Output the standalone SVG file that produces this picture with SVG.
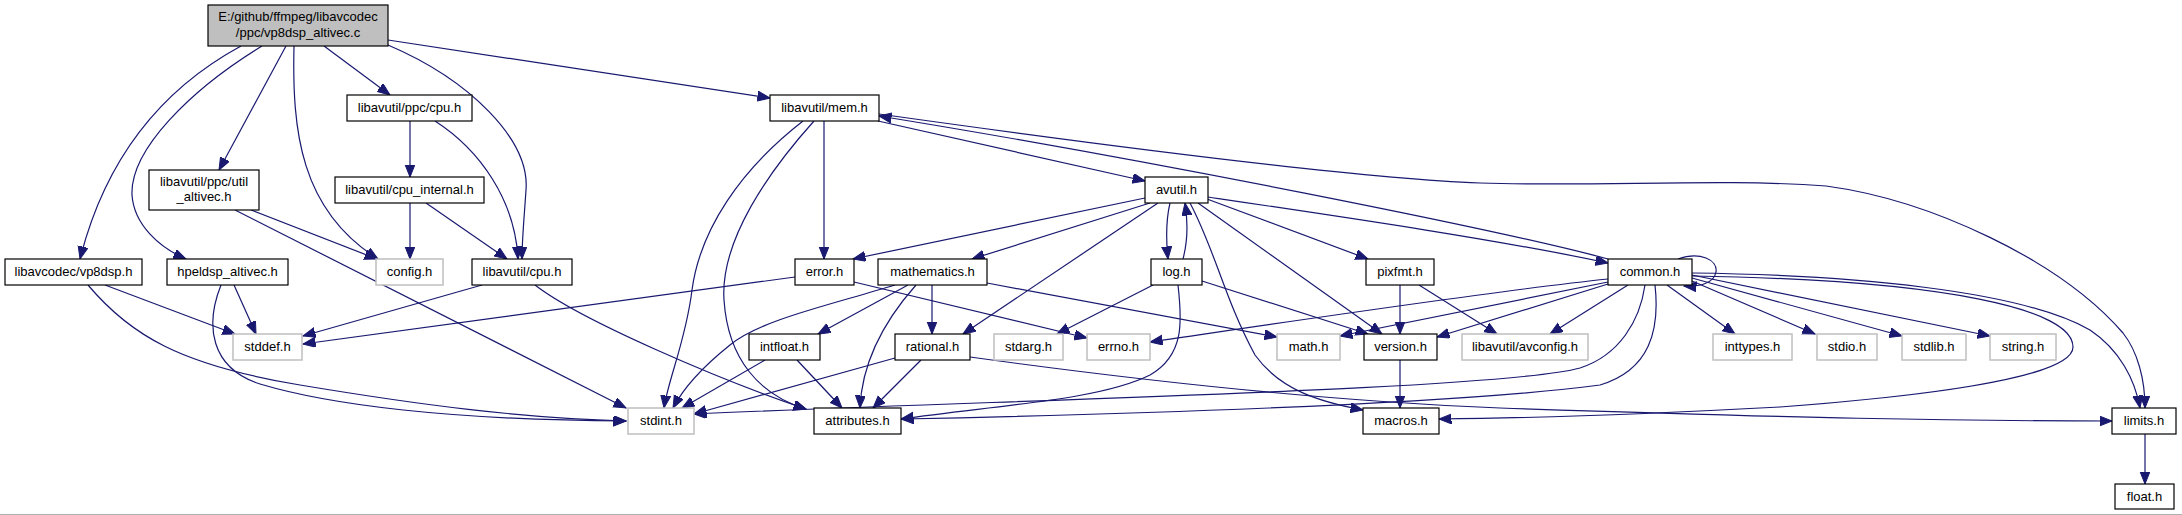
<svg xmlns="http://www.w3.org/2000/svg" width="2182" height="515" viewBox="0 0 2182 515">
<style>
  .n rect { fill: #ffffff; stroke: #000000; stroke-width: 1.2; }
  .n.x rect { stroke: #bfbfbf; stroke-width: 1.5; }
  .n.main rect { fill: #bfbfbf; stroke: #000000; }
  .n text { font-family: "Liberation Sans", Arial, sans-serif; font-size: 13px; fill: #000000; text-anchor: middle; }
  .e { fill: none; stroke: #191970; stroke-width: 1.2; marker-end: url(#arr); }
</style>
<defs>
  <marker id="arr" markerWidth="14" markerHeight="12" refX="12.5" refY="5" orient="auto" markerUnits="userSpaceOnUse">
    <path d="M0,0 L12.5,5 L0,10 z" fill="#191970" stroke="#191970" stroke-width="1"/>
  </marker>
</defs>
<rect x="0" y="0" width="2182" height="515" fill="#ffffff"/>
<line x1="0" y1="514.5" x2="2182" y2="514.5" stroke="#b0b0b0" stroke-width="1"/>

<g id="edges">
  <path class="e" d="M241,46 C160,90 105,160 80,259"/>
  <path class="e" d="M262,46 C190,90 130,150 132,195 C134,225 160,248 186,259"/>
  <path class="e" d="M286,46 L219,170"/>
  <path class="e" d="M294,46 C292,130 300,210 378,259"/>
  <path class="e" d="M324,46 L390,95"/>
  <path class="e" d="M388,45 C470,80 530,140 526,190 C524,220 522,240 522,259"/>
  <path class="e" d="M388,40 L770,98"/>
  <path class="e" d="M410,121 L410,177"/>
  <path class="e" d="M435,121 C480,150 515,200 518,259"/>
  <path class="e" d="M251,210 L377,259"/>
  <path class="e" d="M235,210 L626,408"/>
  <path class="e" d="M410,203 L410,259"/>
  <path class="e" d="M426,203 L507,259"/>
  <path class="e" d="M105,285 L235,334"/>
  <path class="e" d="M88,285 C130,335 180,365 300,385 C420,405 520,418 626,421"/>
  <path class="e" d="M234,285 L256,334"/>
  <path class="e" d="M221,285 C205,325 210,368 260,384 C330,405 450,420 626,421"/>
  <path class="e" d="M482,285 L303,336"/>
  <path class="e" d="M535,285 C580,320 720,380 806,409"/>
  <path class="e" d="M795,277 L303,344"/>
  <path class="e" d="M854,282 L1087,338"/>
  <path class="e" d="M824,121 L824,259"/>
  <path class="e" d="M878,121 L1145,181"/>
  <path class="e" d="M803,121 C740,170 700,230 692,290 C686,340 668,380 664,408"/>
  <path class="e" d="M814,121 C770,170 720,240 724,300 C728,360 760,395 806,409"/>
  <path class="e" d="M879,114 C1100,145 1350,178 1480,183 C1600,187 1720,178 1826,186 C1930,200 2060,260 2123,333 C2138,352 2145,380 2145,408"/>
  <path class="e" d="M1145,198 L853,259"/>
  <path class="e" d="M1150,203 L972,259"/>
  <path class="e" d="M1158,203 L963,334"/>
  <path class="e" d="M1170,203 C1166,220 1166,240 1168,259"/>
  <path class="e" d="M1183,259 C1188,240 1188,222 1185,203"/>
  <path class="e" d="M1190,203 C1215,250 1225,300 1255,355 C1280,390 1320,402 1363,410"/>
  <path class="e" d="M1198,203 L1382,334"/>
  <path class="e" d="M1207,199 L1368,259"/>
  <path class="e" d="M1208,197 C1350,218 1500,240 1608,263"/>
  <path class="e" d="M1153,285 L1057,334"/>
  <path class="e" d="M1202,281 L1368,334"/>
  <path class="e" d="M1178,285 C1182,320 1185,355 1150,375 C1100,400 1000,405 901,419"/>
  <path class="e" d="M1400,285 L1400,334"/>
  <path class="e" d="M1419,285 L1497,334"/>
  <path class="e" d="M1400,360 L1400,408"/>
  <path class="e" d="M908,285 L818,334"/>
  <path class="e" d="M932,285 L932,334"/>
  <path class="e" d="M916,285 C885,320 862,360 860,408"/>
  <path class="e" d="M895,285 C830,305 760,320 730,345 C705,365 685,385 673,408"/>
  <path class="e" d="M987,283 L1277,337"/>
  <path class="e" d="M765,360 L682,408"/>
  <path class="e" d="M797,360 L842,408"/>
  <path class="e" d="M895,358 L694,414"/>
  <path class="e" d="M921,360 L873,408"/>
  <path class="e" d="M970,357 C1100,375 1300,400 1500,408 C1800,418 1950,421 2112,421"/>
  <path class="e" d="M1608,259 C1500,230 1150,160 879,116"/>
  <path class="e" d="M1608,279 C1500,290 1300,320 1150,342"/>
  <path class="e" d="M1608,282 L1340,336"/>
  <path class="e" d="M1608,284 L1437,337"/>
  <path class="e" d="M1628,285 L1550,334"/>
  <path class="e" d="M1645,285 C1640,320 1620,355 1580,368 C1500,390 1000,400 694,414"/>
  <path class="e" d="M1655,285 C1660,330 1650,370 1600,385 C1450,405 1100,415 901,419"/>
  <path class="e" d="M1692,273 C1850,275 2020,290 2090,330 C2120,350 2135,380 2140,408"/>
  <path class="e" d="M1692,276 C1950,280 2073,310 2073,347 C2073,380 1900,398 1780,407 C1650,414 1550,418 1439,419"/>
  <path class="e" d="M1678,259 C1700,251 1718,260 1716,272 C1714,283 1700,287 1684,286"/>
  <path class="e" d="M1667,285 L1735,334"/>
  <path class="e" d="M1692,281 L1815,334"/>
  <path class="e" d="M1692,278 L1902,336"/>
  <path class="e" d="M1692,275 L1990,336"/>
  <path class="e" d="M2145,434 L2145,484"/>
</g>

<g id="node-main" class="n main"><rect x="208" y="5" width="180" height="41"/><text x="298" y="21">E:/github/ffmpeg/libavcodec</text><text x="298" y="37">/ppc/vp8dsp_altivec.c</text></g>
<g id="node-ppc-cpu" class="n"><rect x="347" y="95" width="125" height="26"/><text x="409.5" y="112">libavutil/ppc/cpu.h</text></g>
<g id="node-mem" class="n"><rect x="770" y="95" width="109" height="26"/><text x="824.5" y="112">libavutil/mem.h</text></g>
<g id="node-util-altivec" class="n"><rect x="149" y="170" width="110" height="40"/><text x="204" y="186">libavutil/ppc/util</text><text x="204" y="201">_altivec.h</text></g>
<g id="node-cpu-internal" class="n"><rect x="335" y="177" width="149" height="26"/><text x="409.5" y="194">libavutil/cpu_internal.h</text></g>
<g id="node-avutil" class="n"><rect x="1145" y="177" width="63" height="26"/><text x="1176.5" y="194">avutil.h</text></g>
<g id="node-vp8dsp" class="n"><rect x="5" y="259" width="137" height="26"/><text x="73.5" y="276">libavcodec/vp8dsp.h</text></g>
<g id="node-hpeldsp" class="n"><rect x="167" y="259" width="121" height="26"/><text x="227.5" y="276">hpeldsp_altivec.h</text></g>
<g id="node-config" class="n x"><rect x="376" y="259" width="67" height="26"/><text x="409.5" y="276">config.h</text></g>
<g id="node-cpu" class="n"><rect x="472" y="259" width="100" height="26"/><text x="522" y="276">libavutil/cpu.h</text></g>
<g id="node-error" class="n"><rect x="795" y="259" width="59" height="26"/><text x="824.5" y="276">error.h</text></g>
<g id="node-mathematics" class="n"><rect x="878" y="259" width="109" height="26"/><text x="932.5" y="276">mathematics.h</text></g>
<g id="node-log" class="n"><rect x="1151" y="259" width="51" height="26"/><text x="1176.5" y="276">log.h</text></g>
<g id="node-pixfmt" class="n"><rect x="1366" y="259" width="68" height="26"/><text x="1400" y="276">pixfmt.h</text></g>
<g id="node-common" class="n"><rect x="1608" y="259" width="84" height="26"/><text x="1650" y="276">common.h</text></g>
<g id="node-stddef" class="n x"><rect x="233" y="334" width="69" height="26"/><text x="267.5" y="351">stddef.h</text></g>
<g id="node-intfloat" class="n"><rect x="749" y="334" width="71" height="26"/><text x="784.5" y="351">intfloat.h</text></g>
<g id="node-rational" class="n"><rect x="895" y="334" width="75" height="26"/><text x="932.5" y="351">rational.h</text></g>
<g id="node-stdarg" class="n x"><rect x="994" y="334" width="69" height="26"/><text x="1028.5" y="351">stdarg.h</text></g>
<g id="node-errno" class="n x"><rect x="1087" y="334" width="63" height="26"/><text x="1118.5" y="351">errno.h</text></g>
<g id="node-math" class="n x"><rect x="1277" y="334" width="63" height="26"/><text x="1308.5" y="351">math.h</text></g>
<g id="node-version" class="n"><rect x="1364" y="334" width="73" height="26"/><text x="1400.5" y="351">version.h</text></g>
<g id="node-avconfig" class="n x"><rect x="1462" y="334" width="126" height="26"/><text x="1525" y="351">libavutil/avconfig.h</text></g>
<g id="node-inttypes" class="n x"><rect x="1713" y="334" width="79" height="26"/><text x="1752.5" y="351">inttypes.h</text></g>
<g id="node-stdio" class="n x"><rect x="1817" y="334" width="60" height="26"/><text x="1847" y="351">stdio.h</text></g>
<g id="node-stdlib" class="n x"><rect x="1902" y="334" width="64" height="26"/><text x="1934" y="351">stdlib.h</text></g>
<g id="node-string" class="n x"><rect x="1990" y="334" width="66" height="26"/><text x="2023" y="351">string.h</text></g>
<g id="node-stdint" class="n x"><rect x="628" y="408" width="66" height="26"/><text x="661" y="425">stdint.h</text></g>
<g id="node-attributes" class="n"><rect x="814" y="408" width="87" height="26"/><text x="857.5" y="425">attributes.h</text></g>
<g id="node-macros" class="n"><rect x="1363" y="408" width="76" height="26"/><text x="1401" y="425">macros.h</text></g>
<g id="node-limits" class="n"><rect x="2112" y="408" width="64" height="26"/><text x="2144" y="425">limits.h</text></g>
<g id="node-float" class="n"><rect x="2115" y="484" width="59" height="25"/><text x="2144.5" y="501">float.h</text></g>
</svg>
